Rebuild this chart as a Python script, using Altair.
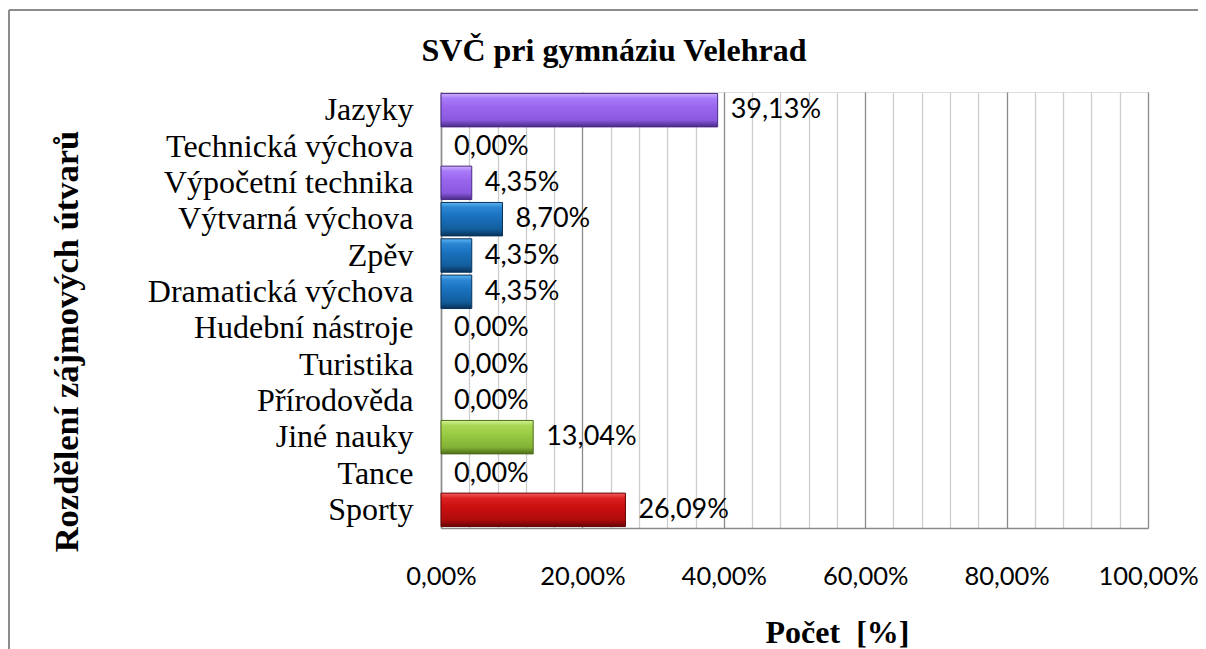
import altair as alt
import pandas as pd

categories = ["Jazyky", "Technická výchova", "Výpočetní technika", "Výtvarná výchova",
              "Zpěv", "Dramatická výchova", "Hudební nástroje", "Turistika",
              "Přírodověda", "Jiné nauky", "Tance", "Sporty"]
values = [39.13, 0.00, 4.35, 8.70, 4.35, 4.35, 0.00, 0.00, 0.00, 13.04, 0.00, 26.09]
groups = ["purple", "purple", "purple", "blue", "blue", "blue", "blue", "green",
          "green", "green", "red", "red"]
grid_vals = [0, 4, 8, 12, 16, 20, 24, 28, 32, 36, 40, 44, 48, 52, 56, 60, 64, 68,
             72, 76, 80, 84, 88, 92, 96, 100]

gradients = {
    "purple": ["#cfb0ff", "#a87bf8", "#9a66ee", "#8a58de", "#4a2a86"],
    "blue": ["#5cb4f4", "#2a86d2", "#1a72c0", "#135e9c", "#08325a"],
    "green": ["#d4f494", "#a8d655", "#99cc44", "#84b236", "#4e6c1a"],
    "red": ["#f66060", "#dc2020", "#cc1010", "#ae0c0c", "#680505"],
}

df = pd.DataFrame({"cat": categories, "val": values, "grp": groups})

W, H = 707, 436
PL, PT = 433, 84
PR = 1190 - PL - W
PB = 641 - PT - H

y_enc = alt.Y("cat:N",
              scale=alt.Scale(domain=categories, paddingInner=0.08, paddingOuter=0.04),
              axis=alt.Axis(title="Rozdělení zájmových útvarů", titleFont="Liberation Serif",
                            titleFontSize=34.5, titleFontWeight="bold", titleColor="black",
                            titleAngle=270, titleX=67 - 441, titleY=341 - 92,
                            titleAlign="center", titleBaseline="middle",
                            labelFont="Liberation Serif", labelFontSize=32, labelColor="black",
                            labelLimit=400, labelPadding=28, ticks=False,
                            domainColor="#8c8c8c", domainWidth=1.5, grid=False))

x_enc = alt.X("val:Q",
              scale=alt.Scale(domain=[0, 100], nice=False, zero=True),
              axis=alt.Axis(values=grid_vals,
                            labelExpr="datum.value % 20 === 0 ? replace(format(datum.value, '.2f'), '.', ',') + '%' : ''",
                            labelOverlap=False, labelFlush=False,
                            labelFont="Lato", labelFontSize=25.5, labelColor="black",
                            labelBaseline="middle", labelPadding=48, ticks=False,
                            domainColor="#8c8c8c", domainWidth=1.5,
                            grid=True,
                            gridColor=alt.condition("datum.value % 20 === 0",
                                                    alt.value("#8a8a8a"), alt.value("#cdcdcd")),
                            gridWidth=1.3,
                            title="Počet\u00a0 [%]", titleFont="Liberation Serif",
                            titleFontSize=32, titleFontWeight="bold", titleColor="black",
                            titleX=837 - 441, titleY=632 - 528, titleAlign="center",
                            titleBaseline="middle"))

base = alt.Chart(df)

layers = []
for g, cols in gradients.items():
    grad = alt.Gradient(
        gradient="linear", x1=0, x2=0, y1=0, y2=1,
        stops=[alt.GradientStop(offset=0.0, color=cols[0]),
               alt.GradientStop(offset=0.15, color=cols[1]),
               alt.GradientStop(offset=0.4, color=cols[2]),
               alt.GradientStop(offset=0.8, color=cols[3]),
               alt.GradientStop(offset=1.0, color=cols[4])])
    layers.append(
        base.transform_filter((alt.datum.grp == g) & (alt.datum.val > 0))
        .mark_bar(color=grad, stroke=cols[4], strokeWidth=1)
        .encode(x=x_enc, y=y_enc)
    )

labels = base.transform_calculate(
    lab="replace(format(datum.val, '.2f'), '.', ',') + '%'"
).mark_text(align="left", baseline="middle", dx=13, font="Lato", fontSize=27,
            color="black").encode(x=x_enc, y=y_enc, text="lab:N")

frame_df = pd.DataFrame({"k": [0]})
frame_v = alt.Chart(frame_df).mark_rule(color="#8c8c8c", strokeWidth=2).encode(
    x=alt.value(-432), y=alt.value(-82), y2=alt.value(H + PB))
frame_h = alt.Chart(frame_df).mark_rule(color="#8c8c8c", strokeWidth=2).encode(
    x=alt.value(-432), x2=alt.value(W + PR), y=alt.value(-82))

chart = alt.layer(*layers, labels, frame_v, frame_h).properties(
    width=W, height=H,
    autosize=alt.AutoSizeParams(type="none"),
    padding={"left": PL, "top": PT, "right": PR, "bottom": PB},
    title=alt.TitleParams("SVČ pri gymnáziu Velehrad", font="Liberation Serif",
                          fontSize=32, fontWeight="bold", color="black",
                          anchor="middle", frame="group", dx=614 - (441 + W / 2),
                          offset=29, dy=113, baseline="alphabetic"),
).configure_view(stroke=None).configure(background="white")

chart.save("out.html", embed_options={"renderer": "svg", "actions": False})
